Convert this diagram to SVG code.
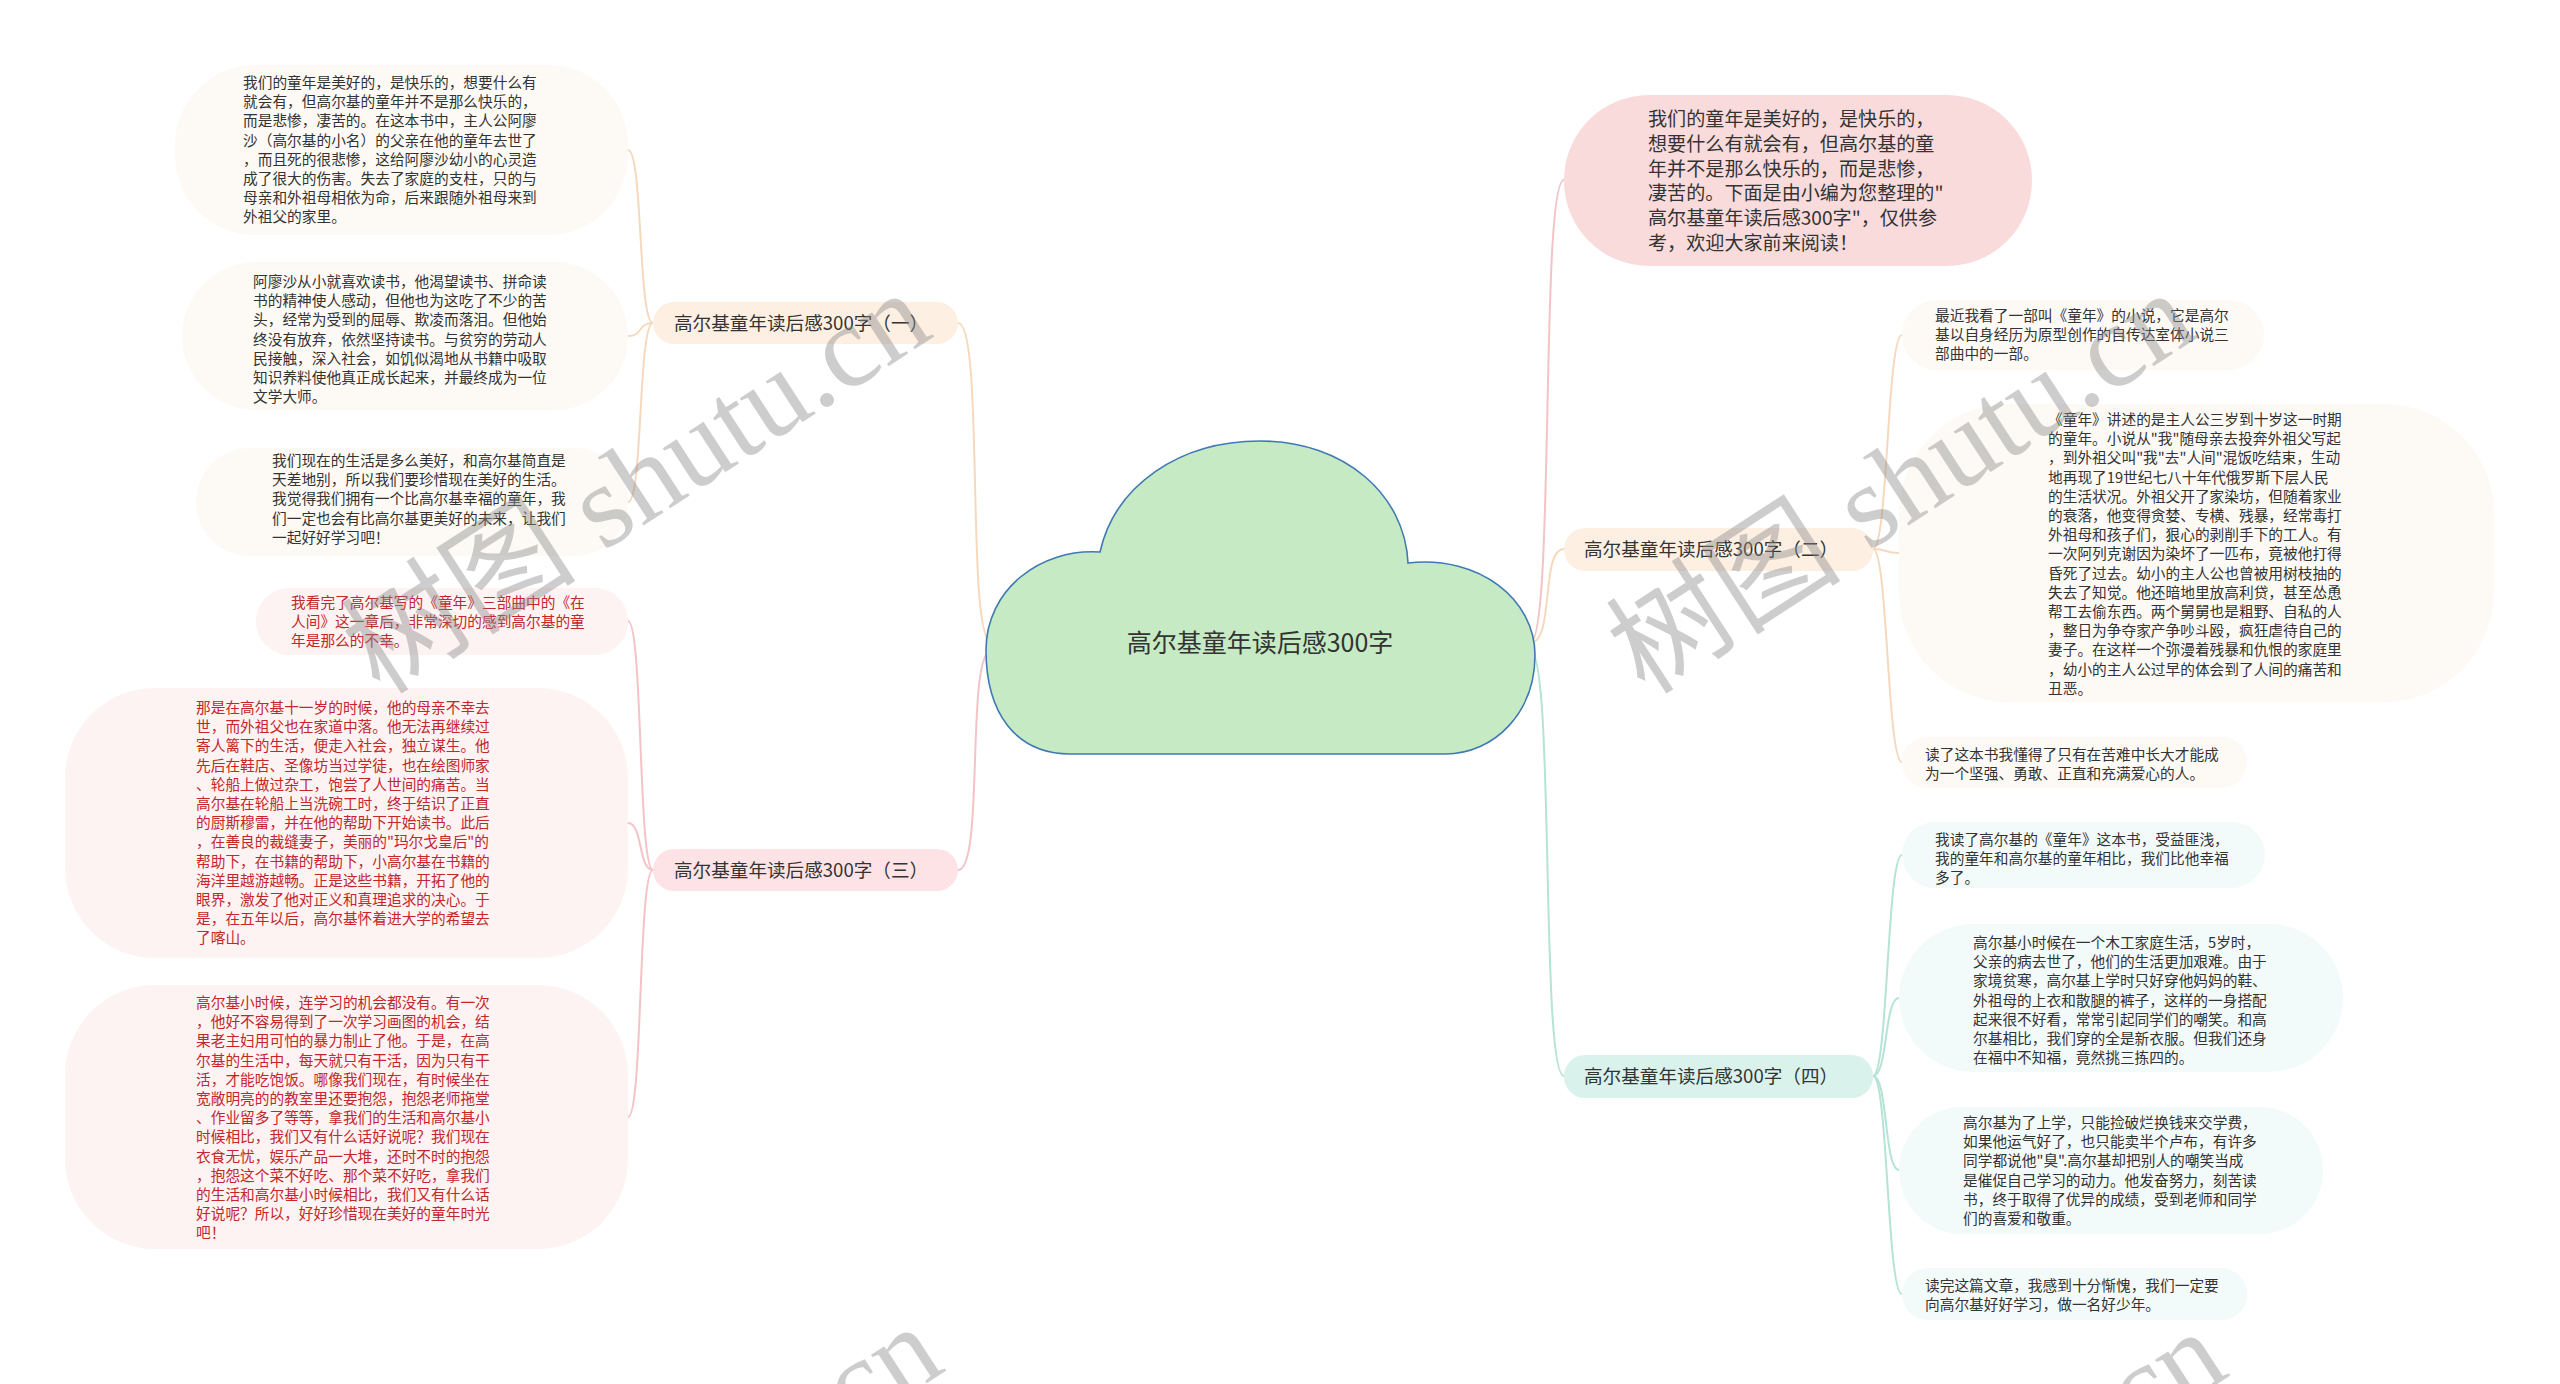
<svg xmlns="http://www.w3.org/2000/svg" width="2560" height="1384" viewBox="0 0 2560 1384">
<style>
  .t{font-family:"Noto Sans CJK SC","Noto Sans",sans-serif;}
  .leaf{font-size:14.7px;fill:#333333;}
  .red{fill:#c4262b;}
  .br{font-size:18.6px;fill:#333333;}
  .c-pe{fill:none;stroke:#f6d9bd;stroke-width:2;}
  .c-pk{fill:none;stroke:#f4c3c8;stroke-width:2;}
  .c-mt{fill:none;stroke:#b5e3d5;stroke-width:2;}
  .wm{font-family:"Liberation Serif","Noto Sans CJK SC",serif;font-size:118px;fill:#8a8a8a;opacity:0.42;}
</style>
<rect x="0" y="0" width="2560" height="1384" fill="#ffffff"/>

<g id="connectors">
  <path class="c-pe" d="M992 643 C965 643 985 323 958 323"/>
  <path class="c-pk" d="M992 650 C965 650 985 870 958 870"/>
  <path class="c-pk" d="M1530 643 C1555 643 1540 180 1564 180"/>
  <path class="c-pe" d="M1530 643 C1555 643 1540 549 1564 549"/>
  <path class="c-mt" d="M1530 650 C1555 650 1540 1076 1564 1076"/>
  <path class="c-pe" d="M653 323 C638 323 643 150 628 150"/>
  <path class="c-pe" d="M653 323 C638 323 643 336 628 336"/>
  <path class="c-pe" d="M653 323 C638 323 643 502 628 502"/>
  <path class="c-pk" d="M653 870 C638 870 643 621 628 621"/>
  <path class="c-pk" d="M653 870 C638 870 643 823 628 823"/>
  <path class="c-pk" d="M653 870 C638 870 643 1117 628 1117"/>
  <path class="c-pe" d="M1873 549 C1888 549 1887 335 1902 335"/>
  <path class="c-pe" d="M1873 549 C1888 549 1884 553 1899 553"/>
  <path class="c-pe" d="M1873 549 C1888 549 1887 762 1902 762"/>
  <path class="c-mt" d="M1873 1076 C1888 1076 1887 855 1902 855"/>
  <path class="c-mt" d="M1873 1076 C1888 1076 1884 998 1899 998"/>
  <path class="c-mt" d="M1873 1076 C1888 1076 1884 1170 1899 1170"/>
  <path class="c-mt" d="M1873 1076 C1888 1076 1887 1294 1902 1294"/>
</g>

<g id="center">
  <path d="M1070 754 C1015 754 986 712 986 650 C986 590 1040 548 1100 552 C1115 485 1180 441 1260 441 C1345 441 1405 495 1408 563 C1480 555 1535 600 1535 655 C1535 712 1495 754 1445 754 Z" fill="#c6eac4" stroke="#3f79b5" stroke-width="1.6"/>
  <text class="t" x="1260" y="652" font-size="25" fill="#333333" text-anchor="middle">高尔基童年读后感300字</text>
</g>

<g id="intro">
  <rect x="1564" y="95" width="468" height="171" rx="85" fill="#fadbdc"/>
  <text class="t" font-size="19.1" fill="#333333" x="1648" y="126">
    <tspan x="1648">我们的童年是美好的，是快乐的，</tspan>
    <tspan x="1648" dy="24.8">想要什么有就会有，但高尔基的童</tspan>
    <tspan x="1648" dy="24.8">年并不是那么快乐的，而是悲惨，</tspan>
    <tspan x="1648" dy="24.8">凄苦的。下面是由小编为您整理的"</tspan>
    <tspan x="1648" dy="24.8">高尔基童年读后感300字"，仅供参</tspan>
    <tspan x="1648" dy="24.8">考，欢迎大家前来阅读！</tspan>
  </text>
</g>

<g id="branch1">
  <rect x="653" y="302" width="305" height="42" rx="21" fill="#fdf0e2"/>
  <text class="t br" x="674" y="330">高尔基童年读后感300字（一）</text>
</g>
<g id="branch3">
  <rect x="653" y="849" width="305" height="42" rx="21" fill="#fde3e5"/>
  <text class="t br" x="674" y="877">高尔基童年读后感300字（三）</text>
</g>
<g id="branch2">
  <rect x="1564" y="528" width="309" height="43" rx="21" fill="#fdf0e2"/>
  <text class="t br" x="1584" y="556">高尔基童年读后感300字（二）</text>
</g>
<g id="branch4">
  <rect x="1564" y="1055" width="309" height="43" rx="21" fill="#d9f3ec"/>
  <text class="t br" x="1584" y="1083">高尔基童年读后感300字（四）</text>
</g>

<g id="leaf1-1">
  <rect x="175" y="65" width="453" height="170" rx="80" fill="#fdfaf5"/>
  <text class="t leaf" x="243" y="88">
    <tspan x="243">我们的童年是美好的，是快乐的，想要什么有</tspan>
    <tspan x="243" dy="19.2">就会有，但高尔基的童年并不是那么快乐的，</tspan>
    <tspan x="243" dy="19.2">而是悲惨，凄苦的。在这本书中，主人公阿廖</tspan>
    <tspan x="243" dy="19.2">沙（高尔基的小名）的父亲在他的童年去世了</tspan>
    <tspan x="243" dy="19.2">，而且死的很悲惨，这给阿廖沙幼小的心灵造</tspan>
    <tspan x="243" dy="19.2">成了很大的伤害。失去了家庭的支柱，只的与</tspan>
    <tspan x="243" dy="19.2">母亲和外祖母相依为命，后来跟随外祖母来到</tspan>
    <tspan x="243" dy="19.2">外祖父的家里。</tspan>
  </text>
</g>
<g id="leaf1-2">
  <rect x="182" y="262" width="446" height="148" rx="74" fill="#fdfaf5"/>
  <text class="t leaf" x="253" y="287">
    <tspan x="253">阿廖沙从小就喜欢读书，他渴望读书、拼命读</tspan>
    <tspan x="253" dy="19.2">书的精神使人感动，但他也为这吃了不少的苦</tspan>
    <tspan x="253" dy="19.2">头，经常为受到的屈辱、欺凌而落泪。但他始</tspan>
    <tspan x="253" dy="19.2">终没有放弃，依然坚持读书。与贫穷的劳动人</tspan>
    <tspan x="253" dy="19.2">民接触，深入社会，如饥似渴地从书籍中吸取</tspan>
    <tspan x="253" dy="19.2">知识养料使他真正成长起来，并最终成为一位</tspan>
    <tspan x="253" dy="19.2">文学大师。</tspan>
  </text>
</g>
<g id="leaf1-3">
  <rect x="196" y="448" width="432" height="108" rx="54" fill="#fdfaf5"/>
  <text class="t leaf" x="272" y="466">
    <tspan x="272">我们现在的生活是多么美好，和高尔基简直是</tspan>
    <tspan x="272" dy="19.2">天差地别，所以我们要珍惜现在美好的生活。</tspan>
    <tspan x="272" dy="19.2">我觉得我们拥有一个比高尔基幸福的童年，我</tspan>
    <tspan x="272" dy="19.2">们一定也会有比高尔基更美好的未来，让我们</tspan>
    <tspan x="272" dy="19.2">一起好好学习吧！</tspan>
  </text>
</g>

<g id="leaf3-1">
  <rect x="256" y="588" width="372" height="67" rx="33" fill="#fdf3f3"/>
  <text class="t leaf red" x="291" y="608">
    <tspan x="291">我看完了高尔基写的《童年》三部曲中的《在</tspan>
    <tspan x="291" dy="19.2">人间》这一章后，非常深切的感到高尔基的童</tspan>
    <tspan x="291" dy="19.2">年是那么的不幸。</tspan>
  </text>
</g>
<g id="leaf3-2">
  <rect x="65" y="688" width="563" height="270" rx="90" fill="#fdf3f3"/>
  <text class="t leaf red" x="196" y="713">
    <tspan x="196">那是在高尔基十一岁的时候，他的母亲不幸去</tspan>
    <tspan x="196" dy="19.2">世，而外祖父也在家道中落。他无法再继续过</tspan>
    <tspan x="196" dy="19.2">寄人篱下的生活，便走入社会，独立谋生。他</tspan>
    <tspan x="196" dy="19.2">先后在鞋店、圣像坊当过学徒，也在绘图师家</tspan>
    <tspan x="196" dy="19.2">、轮船上做过杂工，饱尝了人世间的痛苦。当</tspan>
    <tspan x="196" dy="19.2">高尔基在轮船上当洗碗工时，终于结识了正直</tspan>
    <tspan x="196" dy="19.2">的厨斯穆雷，并在他的帮助下开始读书。此后</tspan>
    <tspan x="196" dy="19.2">，在善良的裁缝妻子，美丽的"玛尔戈皇后"的</tspan>
    <tspan x="196" dy="19.2">帮助下，在书籍的帮助下，小高尔基在书籍的</tspan>
    <tspan x="196" dy="19.2">海洋里越游越畅。正是这些书籍，开拓了他的</tspan>
    <tspan x="196" dy="19.2">眼界，激发了他对正义和真理追求的决心。于</tspan>
    <tspan x="196" dy="19.2">是，在五年以后，高尔基怀着进大学的希望去</tspan>
    <tspan x="196" dy="19.2">了喀山。</tspan>
  </text>
</g>
<g id="leaf3-3">
  <rect x="65" y="985" width="563" height="264" rx="90" fill="#fdf3f3"/>
  <text class="t leaf red" x="196" y="1008">
    <tspan x="196">高尔基小时候，连学习的机会都没有。有一次</tspan>
    <tspan x="196" dy="19.2">，他好不容易得到了一次学习画图的机会，结</tspan>
    <tspan x="196" dy="19.2">果老主妇用可怕的暴力制止了他。于是，在高</tspan>
    <tspan x="196" dy="19.2">尔基的生活中，每天就只有干活，因为只有干</tspan>
    <tspan x="196" dy="19.2">活，才能吃饱饭。哪像我们现在，有时候坐在</tspan>
    <tspan x="196" dy="19.2">宽敞明亮的的教室里还要抱怨，抱怨老师拖堂</tspan>
    <tspan x="196" dy="19.2">、作业留多了等等，拿我们的生活和高尔基小</tspan>
    <tspan x="196" dy="19.2">时候相比，我们又有什么话好说呢？我们现在</tspan>
    <tspan x="196" dy="19.2">衣食无忧，娱乐产品一大堆，还时不时的抱怨</tspan>
    <tspan x="196" dy="19.2">，抱怨这个菜不好吃、那个菜不好吃，拿我们</tspan>
    <tspan x="196" dy="19.2">的生活和高尔基小时候相比，我们又有什么话</tspan>
    <tspan x="196" dy="19.2">好说呢？所以，好好珍惜现在美好的童年时光</tspan>
    <tspan x="196" dy="19.2">吧！</tspan>
  </text>
</g>

<g id="leaf2-1">
  <rect x="1902" y="300" width="362" height="70" rx="35" fill="#fdfaf5"/>
  <text class="t leaf" x="1935" y="321">
    <tspan x="1935">最近我看了一部叫《童年》的小说，它是高尔</tspan>
    <tspan x="1935" dy="19.2">基以自身经历为原型创作的自传达室体小说三</tspan>
    <tspan x="1935" dy="19.2">部曲中的一部。</tspan>
  </text>
</g>
<g id="leaf2-2">
  <rect x="1899" y="404" width="595" height="298" rx="110" fill="#fdfaf5"/>
  <text class="t leaf" x="2048" y="425">
    <tspan x="2048">《童年》讲述的是主人公三岁到十岁这一时期</tspan>
    <tspan x="2048" dy="19.2">的童年。小说从"我"随母亲去投奔外祖父写起</tspan>
    <tspan x="2048" dy="19.2">，到外祖父叫"我"去"人间"混饭吃结束，生动</tspan>
    <tspan x="2048" dy="19.2">地再现了19世纪七八十年代俄罗斯下层人民</tspan>
    <tspan x="2048" dy="19.2">的生活状况。外祖父开了家染坊，但随着家业</tspan>
    <tspan x="2048" dy="19.2">的衰落，他变得贪婪、专横、残暴，经常毒打</tspan>
    <tspan x="2048" dy="19.2">外祖母和孩子们，狠心的剥削手下的工人。有</tspan>
    <tspan x="2048" dy="19.2">一次阿列克谢因为染坏了一匹布，竟被他打得</tspan>
    <tspan x="2048" dy="19.2">昏死了过去。幼小的主人公也曾被用树枝抽的</tspan>
    <tspan x="2048" dy="19.2">失去了知觉。他还暗地里放高利贷，甚至怂恿</tspan>
    <tspan x="2048" dy="19.2">帮工去偷东西。两个舅舅也是粗野、自私的人</tspan>
    <tspan x="2048" dy="19.2">，整日为争夺家产争吵斗殴，疯狂虐待自己的</tspan>
    <tspan x="2048" dy="19.2">妻子。在这样一个弥漫着残暴和仇恨的家庭里</tspan>
    <tspan x="2048" dy="19.2">，幼小的主人公过早的体会到了人间的痛苦和</tspan>
    <tspan x="2048" dy="19.2">丑恶。</tspan>
  </text>
</g>
<g id="leaf2-3">
  <rect x="1902" y="737" width="345" height="51" rx="25" fill="#fdfaf5"/>
  <text class="t leaf" x="1925" y="760">
    <tspan x="1925">读了这本书我懂得了只有在苦难中长大才能成</tspan>
    <tspan x="1925" dy="19.2">为一个坚强、勇敢、正直和充满爱心的人。</tspan>
  </text>
</g>

<g id="leaf4-1">
  <rect x="1902" y="822" width="363" height="66" rx="33" fill="#f3fafa"/>
  <text class="t leaf" x="1935" y="845">
    <tspan x="1935">我读了高尔基的《童年》这本书，受益匪浅，</tspan>
    <tspan x="1935" dy="19.2">我的童年和高尔基的童年相比，我们比他幸福</tspan>
    <tspan x="1935" dy="19.2">多了。</tspan>
  </text>
</g>
<g id="leaf4-2">
  <rect x="1899" y="924" width="444" height="148" rx="74" fill="#f3fafa"/>
  <text class="t leaf" x="1973" y="948">
    <tspan x="1973">高尔基小时候在一个木工家庭生活，5岁时，</tspan>
    <tspan x="1973" dy="19.2">父亲的病去世了，他们的生活更加艰难。由于</tspan>
    <tspan x="1973" dy="19.2">家境贫寒，高尔基上学时只好穿他妈妈的鞋、</tspan>
    <tspan x="1973" dy="19.2">外祖母的上衣和散腿的裤子，这样的一身搭配</tspan>
    <tspan x="1973" dy="19.2">起来很不好看，常常引起同学们的嘲笑。和高</tspan>
    <tspan x="1973" dy="19.2">尔基相比，我们穿的全是新衣服。但我们还身</tspan>
    <tspan x="1973" dy="19.2">在福中不知福，竟然挑三拣四的。</tspan>
  </text>
</g>
<g id="leaf4-3">
  <rect x="1899" y="1107" width="424" height="127" rx="63" fill="#f3fafa"/>
  <text class="t leaf" x="1963" y="1128">
    <tspan x="1963">高尔基为了上学，只能捡破烂换钱来交学费，</tspan>
    <tspan x="1963" dy="19.2">如果他运气好了，也只能卖半个卢布，有许多</tspan>
    <tspan x="1963" dy="19.2">同学都说他"臭".高尔基却把别人的嘲笑当成</tspan>
    <tspan x="1963" dy="19.2">是催促自己学习的动力。他发奋努力，刻苦读</tspan>
    <tspan x="1963" dy="19.2">书，终于取得了优异的成绩，受到老师和同学</tspan>
    <tspan x="1963" dy="19.2">们的喜爱和敬重。</tspan>
  </text>
</g>
<g id="leaf4-4">
  <rect x="1902" y="1268" width="345" height="52" rx="26" fill="#f3fafa"/>
  <text class="t leaf" x="1925" y="1291">
    <tspan x="1925">读完这篇文章，我感到十分惭愧，我们一定要</tspan>
    <tspan x="1925" dy="19.2">向高尔基好好学习，做一名好少年。</tspan>
  </text>
</g>

<g id="watermarks">
  <text class="wm" transform="translate(658 516) rotate(-33)" text-anchor="middle">树图 shutu.cn</text>
  <text class="wm" transform="translate(1923 516) rotate(-33)" text-anchor="middle">树图 shutu.cn</text>
  <text class="wm" transform="translate(670 1550) rotate(-33)" text-anchor="middle">树图 shutu.cn</text>
  <text class="wm" transform="translate(1954 1555) rotate(-33)" text-anchor="middle">树图 shutu.cn</text>
</g>
</svg>
